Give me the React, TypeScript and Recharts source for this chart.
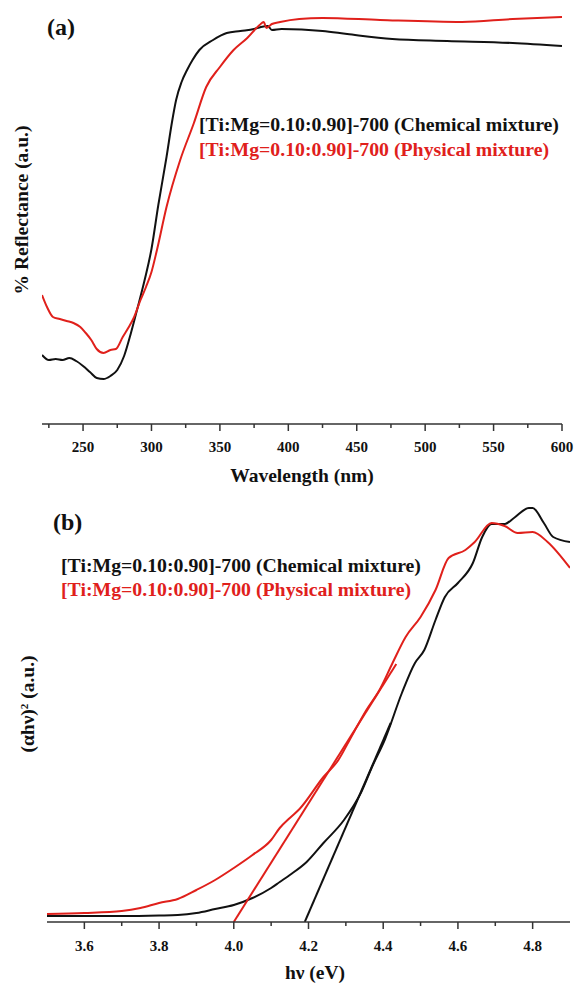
import React from "react";
import { LineChart, Line, XAxis, YAxis } from "recharts";

// panel (a): diffuse reflectance spectra
const wlBlack = [220, 225, 230, 235, 240, 245, 250, 255, 260, 265, 270, 275, 280, 285, 290, 295, 300, 305, 311, 315, 318, 322, 326, 330, 335, 345, 355, 365, 375, 380, 385, 388, 395, 425, 443, 476, 516, 564, 600];
const reflBlack = [69, 64, 65, 64, 66, 63, 58, 52, 46, 45, 48, 54, 68, 91, 117, 144, 175, 219, 267, 302, 324, 342, 354, 364, 374, 384, 391, 393, 395, 397, 398, 394, 395, 393, 390, 385, 383, 381, 378];
const wlRed = [220, 224, 228, 233, 238, 243, 248, 252, 256, 260, 265, 270, 274, 279, 283, 287, 292, 296, 300, 304, 311, 321, 331, 340, 350, 360, 370, 379, 382, 384, 388, 394, 408, 425, 467, 527, 564, 600];
const reflRed = [129, 116, 107, 105, 103, 101, 97, 91, 84, 75, 71, 74, 75, 87, 96, 106, 124, 137, 152, 174, 217, 264, 301, 337, 357, 374, 386, 399, 402, 396, 400, 402, 405, 406, 404, 402, 405, 407];
const wlTicks = [225, 250, 275, 300, 325, 350, 375, 400, 425, 450, 475, 500, 525, 550, 575, 600];

// panel (b): Tauc plot
const evBlack = [3.5, 3.6, 3.7, 3.8, 3.85, 3.9, 3.95, 4.0, 4.05, 4.1, 4.123, 4.15, 4.195, 4.24, 4.295, 4.34, 4.37, 4.405, 4.45, 4.485, 4.51, 4.54, 4.565, 4.6, 4.64, 4.665, 4.69, 4.725, 4.75, 4.79, 4.8, 4.83, 4.855, 4.9];
const taucBlack = [6, 6, 6, 6.5, 7, 9, 13, 17, 24, 34, 40, 47, 60, 79, 102, 129, 155, 183, 229, 259, 272, 302, 325, 339, 359, 385, 398, 398, 404, 414, 414, 399, 385, 380];
const evRed = [3.5, 3.6, 3.7, 3.75, 3.8, 3.85, 3.9, 3.95, 4.0, 4.05, 4.1, 4.123, 4.15, 4.176, 4.24, 4.28, 4.31, 4.355, 4.39, 4.425, 4.46, 4.5, 4.54, 4.575, 4.62, 4.645, 4.69, 4.725, 4.76, 4.8, 4.84, 4.9];
const taucRed = [8, 9, 11, 14, 19, 23, 32, 42, 54, 67, 82, 94, 104, 113, 145, 162, 182, 212, 232, 259, 285, 305, 332, 364, 372, 380, 399, 396, 389, 390, 380, 354];
const fitBlackX = [4.19, 4.42];
const fitBlackY = [0, 199];
const fitRedX = [4.0, 4.435];
const fitRedY = [0, 258];
const evTicks = [3.6, 3.7, 3.8, 3.9, 4.0, 4.1, 4.2, 4.3, 4.4, 4.5, 4.6, 4.7, 4.8];

const zip = (xs: number[], ys: number[]) => xs.map((x, i) => ({ x, v: ys[i] }));

const FONT = "'Liberation Serif', 'Times New Roman', serif";
const RED = "#e0201b";
const FRAME = "#333";

const makeTick = (isMajor: (v: number) => boolean, fmt: (v: number) => string, dy: number) =>
  (props: any) => {
    const { x, y, payload } = props;
    const major = isMajor(payload.value);
    return (
      <g>
        <line x1={x} x2={x} y1={y} y2={y + (major ? 7 : 4)} stroke={FRAME} strokeWidth={1.5} />
        {major && (
          <text x={x} y={y + dy} textAnchor="middle" fontFamily={FONT} fontWeight="bold" fontSize={15} fill="#111">
            {fmt(payload.value)}
          </text>
        )}
      </g>
    );
  };

const Txt = ({ x, y, size, color = "#111", rotate = false, center = true, children }: any) => (
  <div
    style={{
      position: "absolute",
      left: x,
      top: y,
      transform: `translate(${center ? "-50%" : "0"}, -50%)${rotate ? " rotate(-90deg)" : ""}`,
      fontFamily: FONT,
      fontWeight: "bold",
      fontSize: size,
      color,
      whiteSpace: "nowrap",
      lineHeight: 1,
    }}
  >
    {children}
  </div>
);

const frameLine = { stroke: FRAME, strokeWidth: 1.5 };

export default function App() {
  return (
    <div style={{ position: "absolute", left: 0, top: 0, width: 583, height: 984, background: "#fff" }}>
      {/* (a) */}
      <div style={{ position: "absolute", left: 0, top: 0 }}>
        <LineChart width={583} height={490} margin={{ top: 8, left: 42, right: 21, bottom: 6 }}>
          <XAxis
            dataKey="x"
            type="number"
            domain={[220, 600]}
            allowDataOverflow
            ticks={wlTicks}
            interval={0}
            height={60}
            tickSize={0}
            tickMargin={0}
            tickLine={false}
            axisLine={frameLine}
            tick={makeTick((v) => v % 50 === 0, (v) => String(v), 28)}
          />
          <XAxis xAxisId="top" orientation="top" type="number" domain={[220, 600]} height={0} tick={false} tickLine={false} axisLine={frameLine} />
          <YAxis type="number" domain={[0, 416]} allowDataOverflow width={0} tick={false} tickLine={false} axisLine={frameLine} />
          <YAxis yAxisId="right" orientation="right" type="number" domain={[0, 1]} width={0} tick={false} tickLine={false} axisLine={frameLine} />
          <Line data={zip(wlBlack, reflBlack)} dataKey="v" type="monotone" stroke="#111" strokeWidth={2} dot={false} activeDot={false} isAnimationActive={false} />
          <Line data={zip(wlRed, reflRed)} dataKey="v" type="monotone" stroke={RED} strokeWidth={2} dot={false} activeDot={false} isAnimationActive={false} />
        </LineChart>
      </div>

      {/* (b) */}
      <div style={{ position: "absolute", left: 0, top: 490 }}>
        <LineChart width={583} height={494} margin={{ top: 14, left: 47, right: 13, bottom: 12 }}>
          <XAxis
            dataKey="x"
            type="number"
            domain={[3.5, 4.9]}
            allowDataOverflow
            ticks={evTicks}
            interval={0}
            height={50}
            tickSize={0}
            tickMargin={0}
            tickLine={false}
            axisLine={frameLine}
            tick={makeTick((v) => Math.round(v * 10) % 2 === 0, (v) => v.toFixed(1), 29)}
          />
          <XAxis xAxisId="top" orientation="top" type="number" domain={[3.5, 4.9]} height={0} tick={false} tickLine={false} axisLine={frameLine} />
          <YAxis type="number" domain={[0, 418]} allowDataOverflow width={0} tick={false} tickLine={false} axisLine={frameLine} />
          <YAxis yAxisId="right" orientation="right" type="number" domain={[0, 1]} width={0} tick={false} tickLine={false} axisLine={frameLine} />
          <Line data={zip(evBlack, taucBlack)} dataKey="v" type="monotone" stroke="#111" strokeWidth={2} dot={false} activeDot={false} isAnimationActive={false} />
          <Line data={zip(evRed, taucRed)} dataKey="v" type="monotone" stroke={RED} strokeWidth={2} dot={false} activeDot={false} isAnimationActive={false} />
          <Line data={zip(fitBlackX, fitBlackY)} dataKey="v" stroke="#111" strokeWidth={2} dot={false} activeDot={false} isAnimationActive={false} />
          <Line data={zip(fitRedX, fitRedY)} dataKey="v" stroke={RED} strokeWidth={2} dot={false} activeDot={false} isAnimationActive={false} />
        </LineChart>
      </div>

      <Txt x={47} y={27} size={24} center={false}>(a)</Txt>
      <Txt x={199} y={125} size={19.8} center={false}>[Ti:Mg=0.10:0.90]-700 (Chemical mixture)</Txt>
      <Txt x={199} y={150} size={19.8} center={false} color={RED}>[Ti:Mg=0.10:0.90]-700 (Physical mixture)</Txt>
      <Txt x={302} y={476} size={19.5}>Wavelength (nm)</Txt>
      <Txt x={22} y={210} size={19.5} rotate>% Reflectance (a.u.)</Txt>

      <Txt x={53} y={522} size={24} center={false}>(b)</Txt>
      <Txt x={61} y={566} size={19.8} center={false}>[Ti:Mg=0.10:0.90]-700 (Chemical mixture)</Txt>
      <Txt x={61} y={590} size={19.8} center={false} color={RED}>[Ti:Mg=0.10:0.90]-700 (Physical mixture)</Txt>
      <Txt x={315} y={973} size={19.5}>hν (eV)</Txt>
      <Txt x={28} y={704} size={19.5} rotate>
        (αhν)<sup style={{ fontSize: 11, verticalAlign: "6px" }}>2</sup> (a.u.)
      </Txt>
    </div>
  );
}
